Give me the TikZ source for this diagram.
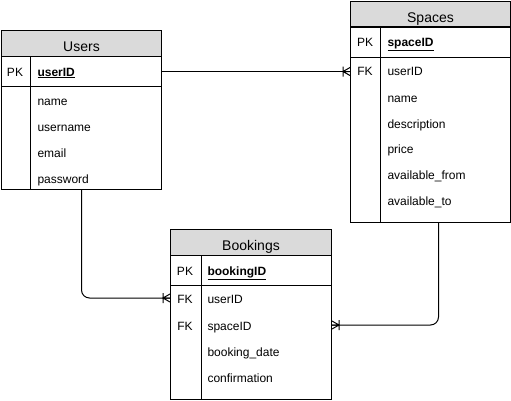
\documentclass[tikz,border=0pt]{standalone}
\usepackage{fontspec}
\setmainfont{Liberation Sans}
\definecolor{headgray}{RGB}{218,218,218}
\tikzset{
  head/.style={draw, fill=headgray, minimum width=160pt, minimum height=26pt, inner sep=0pt, anchor=north west, text height=16pt, text depth=0pt, font=\fontsize{14}{16}\selectfont},
  rowbox/.style={draw, minimum width=160pt, inner sep=0pt, anchor=north west},
  field/.style={anchor=west, inner sep=0pt, text height=10pt, text depth=0pt},
  key/.style={inner sep=0pt, text height=10pt, text depth=0pt},
  crowfoot/.pic={\draw (0,0) -- (7,0) (0,4) -- (7,0) -- (0,-4) (7,-5) -- (7,5);}
}
\begin{document}
\begin{tikzpicture}[x=1pt, y=-1pt, line width=1pt, font=\fontsize{12}{14}\selectfont]
\useasboundingbox (0,0) rectangle (511,400);
% Users
\node [head] (usershead) at (1,30) {Users};
\node [rowbox, minimum height=30pt] (userspk) at (1,56) {};
\node [rowbox, minimum height=103pt] (usersbody) at (1,86) {};
\draw ([xshift=29pt]userspk.north west) -- ([xshift=29pt]usersbody.south west);
\node [key] (upk) at (15,71) {PK};
\node [field] (uid) at (37,71) {\underline{\textbf{userID}}};
\node [field] (uname) at (37,100) {name};
\node [field] (uuser) at (37,126) {username};
\node [field] (umail) at (37,152) {email};
\node [field] (upass) at (37,178) {password};
% Spaces
\node [head] (spaceshead) at (350,1) {Spaces};
\node [rowbox, minimum height=31pt] (spacespk) at (350,26) {};
\node [rowbox, minimum height=165pt] (spacesbody) at (350,57) {};
\draw ([xshift=30pt]spacespk.north west) -- ([xshift=30pt]spacesbody.south west);
\node [key] (spk) at (365,41) {PK};
\node [field] (sid) at (387,41) {\underline{\textbf{spaceID}}};
\node [key] (sfk) at (365,70) {FK};
\node [field] (suser) at (387,70) {userID};
\node [field] (sname) at (387,97) {name};
\node [field] (sdesc) at (387,123) {description};
\node [field] (sprice) at (387,148) {price};
\node [field] (sfrom) at (387,174) {available\_from};
\node [field] (sto) at (387,200) {available\_to};
% Bookings
\node [head, minimum width=161pt] (bookingshead) at (170,229) {Bookings};
\node [rowbox, minimum width=161pt, minimum height=30pt] (bookingspk) at (170,255) {};
\node [rowbox, minimum width=161pt, minimum height=114pt] (bookingsbody) at (170,285) {};
\draw ([xshift=31pt]bookingspk.north west) -- ([xshift=31pt]bookingsbody.south west);
\node [key] (bpk) at (185,270) {PK};
\node [field] (bid) at (207,270) {\underline{\textbf{bookingID}}};
\node [key] (bfk1) at (185,298) {FK};
\node [field] (buser) at (207,298) {userID};
\node [key] (bfk2) at (185,325) {FK};
\node [field] (bspace) at (207,325) {spaceID};
\node [field] (bdate) at (207,351) {booking\_date};
\node [field] (bconf) at (207,377) {confirmation};
% relations
\draw (userspk.east) -- (userspk.east -| spacesbody.west) coordinate (e1);
\draw [rounded corners=8pt] (usersbody.south) |- (bookingsbody.west |- bfk1) coordinate (e2);
\draw [rounded corners=8pt] ([xshift=8pt]spacesbody.south) |- (bookingsbody.east |- bfk2) coordinate (e3);
\pic [rotate=180] at (e1) {crowfoot};
\pic [rotate=180] at (e2) {crowfoot};
\pic at (e3) {crowfoot};
\end{tikzpicture}
\end{document}
